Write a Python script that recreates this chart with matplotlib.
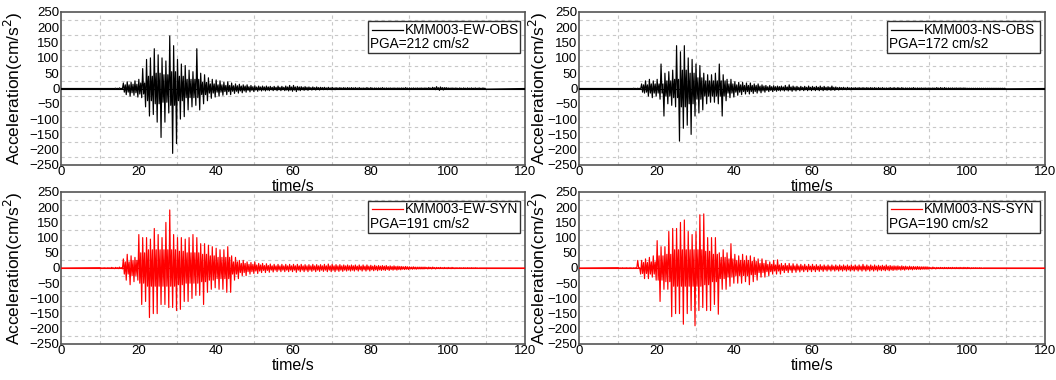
import numpy as np
import matplotlib.pyplot as plt
from matplotlib.ticker import MultipleLocator, FixedLocator
from matplotlib.patches import Rectangle

plt.rcParams['font.family'] = ['Liberation Sans', 'DejaVu Sans']

# per-second peak values (max / min), starting at t0 = 10 s
t0 = 10
ew_obs_max = [0, 0, 0, 0, 1, 2, 18, 22, 20, 25,
              30, 65, 95, 100, 130, 110, 100, 90, 172, 140,
              95, 80, 75, 60, 55, 130, 50, 45, 35, 30,
              28, 25, 20, 22, 18, 15, 14, 12, 12, 10,
              9, 8, 8, 8, 7, 7, 8, 7, 8, 10,
              10, 7, 6, 6, 5, 5, 5, 4, 4, 4,
              4, 3, 3, 3, 3, 3, 3, 3, 2, 3,
              3, 2, 2, 3, 2, 2, 2, 2, 2, 3,
              2, 2, 2, 2, 2, 3, 4, 6, 5, 3,
              2, 2, 2, 2, 2, 2, 2, 2, 2, 2]
ew_obs_min = [0, 0, 0, 0, -1, -2, -20, -25, -22, -28,
              -30, -60, -90, -85, -110, -160, -110, -80, -212, -180,
              -100, -92, -70, -60, -55, -70, -50, -40, -32, -28,
              -25, -22, -20, -20, -16, -15, -14, -12, -11, -10,
              -9, -8, -8, -7, -7, -7, -7, -7, -8, -9,
              -10, -7, -6, -6, -5, -5, -5, -4, -4, -4,
              -4, -3, -3, -3, -3, -3, -3, -3, -2, -3,
              -3, -2, -2, -3, -2, -2, -2, -2, -2, -3,
              -2, -2, -2, -2, -2, -3, -4, -6, -5, -3,
              -2, -2, -2, -2, -2, -2, -2, -2, -2, -2]

ns_obs_max = [0, 0, 0, 0, 1, 1, 15, 25, 30, 25,
              30, 80, 50, 55, 60, 140, 120, 140, 100, 95,
              80, 75, 50, 45, 45, 50, 80, 45, 30, 30,
              22, 20, 20, 18, 18, 15, 15, 12, 10, 10,
              9, 8, 8, 10, 12, 8, 7, 7, 7, 8,
              7, 7, 8, 7, 6, 8, 5, 4, 4, 4,
              3, 3, 3, 3, 3, 3, 3, 3, 3, 2,
              3, 3, 3, 3, 2, 2, 3, 2, 2, 2,
              2, 2, 3, 3, 3, 2, 2, 2, 2, 2,
              1, 1, 1, 1, 1, 1, 1, 1, 1, 1]
ns_obs_min = [0, 0, 0, 0, -1, -1, -15, -25, -30, -25,
              -35, -90, -50, -55, -60, -172, -130, -120, -150, -90,
              -80, -70, -50, -45, -45, -50, -90, -40, -30, -28,
              -22, -20, -18, -18, -16, -15, -14, -12, -10, -10,
              -9, -8, -8, -8, -9, -8, -7, -7, -7, -7,
              -7, -7, -7, -6, -6, -6, -5, -4, -4, -4,
              -3, -3, -3, -3, -3, -3, -3, -3, -3, -2,
              -3, -3, -3, -3, -2, -2, -3, -2, -2, -2,
              -2, -2, -3, -3, -3, -2, -2, -2, -2, -2,
              -1, -1, -1, -1, -1, -1, -1, -1, -1, -1]

ew_syn_max = [1, 1, 1, 2, 2, 3, 30, 45, 40, 35,
              110, 100, 100, 95, 130, 110, 100, 150, 191, 110,
              100, 100, 95, 100, 110, 100, 80, 80, 75, 70,
              65, 60, 60, 70, 40, 35, 25, 25, 20, 18,
              20, 15, 15, 14, 13, 12, 12, 12, 12, 12,
              12, 12, 12, 11, 11, 12, 11, 11, 12, 13,
              12, 11, 11, 10, 10, 10, 10, 10, 10, 10,
              9, 9, 8, 8, 8, 7, 7, 6, 5, 5,
              4, 4, 3, 3, 3, 3, 3, 2, 2, 2,
              2, 2, 1, 1, 1, 1, 1, 1, 0, 0]
ew_syn_min = [-1, -1, -1, -2, -2, -3, -40, -55, -45, -40,
              -120, -110, -163, -150, -150, -120, -120, -130, -130, -140,
              -136, -110, -110, -100, -90, -90, -120, -80, -70, -65,
              -70, -70, -80, -80, -40, -35, -25, -25, -20, -18,
              -18, -15, -15, -14, -13, -12, -12, -12, -12, -12,
              -14, -12, -12, -12, -11, -12, -11, -11, -12, -12,
              -12, -11, -11, -10, -10, -10, -10, -10, -10, -10,
              -9, -9, -8, -8, -8, -7, -7, -6, -5, -5,
              -4, -4, -3, -3, -3, -3, -3, -2, -2, -2,
              -2, -2, -1, -1, -1, -1, -1, -1, 0, 0]

ns_syn_max = [1, 1, 1, 1, 1, 25, 25, 30, 35, 40,
              90, 70, 70, 120, 130, 130, 150, 158, 120, 110,
              120, 175, 178, 100, 100, 100, 50, 60, 50, 80,
              45, 40, 45, 40, 40, 35, 30, 30, 25, 20,
              25, 27, 15, 15, 15, 14, 13, 12, 12, 12,
              12, 11, 11, 10, 10, 10, 10, 10, 10, 10,
              10, 10, 10, 12, 10, 10, 10, 9, 9, 10,
              8, 7, 7, 7, 6, 6, 5, 5, 4, 4,
              3, 3, 2, 2, 2, 2, 2, 2, 2, 2,
              2, 1, 1, 1, 0, 0, 0, 0, 0, 0]
ns_syn_min = [-1, -1, -1, -1, -1, -20, -35, -35, -30, -40,
              -110, -70, -70, -160, -150, -150, -185, -150, -140, -190,
              -140, -130, -140, -140, -120, -152, -70, -70, -60, -50,
              -50, -50, -45, -55, -45, -40, -30, -30, -25, -20,
              -20, -20, -15, -15, -15, -14, -13, -12, -12, -12,
              -12, -11, -11, -10, -10, -10, -10, -10, -10, -10,
              -10, -10, -10, -10, -10, -10, -10, -9, -9, -9,
              -8, -7, -7, -7, -6, -6, -5, -5, -4, -4,
              -3, -3, -2, -2, -2, -2, -2, -2, -2, -2,
              -2, -1, -1, -1, 0, 0, 0, 0, 0, 0]

# typical (in-between) swing of each trace, 2 s steps from t0
ew_obs_core = [0, 0, 0.5, 12, 14, 18, 40, 50, 45, 55,
               40, 30, 30, 20, 15, 12, 10, 9, 8, 6,
               5, 5, 4, 4, 5, 5, 4, 3, 3, 2,
               2, 2, 2, 1.5, 1.5, 1.5, 1.5, 1.5, 1.5, 1.5,
               1.5, 1.5, 1.5, 2.5, 3, 1.5, 1, 1, 1, 1]
ns_obs_core = [0, 0, 0.5, 12, 15, 15, 25, 30, 60, 50,
               35, 25, 25, 25, 15, 12, 10, 10, 8, 6,
               6, 5, 5, 4, 4, 4, 4, 4, 3, 2,
               2, 2, 2, 1.5, 1.5, 1.5, 1.5, 1.5, 1.5, 1.5,
               1.5, 1.5, 1.5, 1.5, 1.5, 1, 1, 1, 1, 1]
ew_syn_core = [0.5, 0.5, 1, 20, 25, 50, 60, 60, 60, 60,
               55, 50, 50, 45, 40, 35, 35, 20, 15, 12,
               10, 8, 7, 7, 7, 7, 7, 7, 7, 7,
               7, 7, 7, 6, 6, 6, 6, 5, 5, 4,
               3, 3, 2, 1.5, 1, 1, 0.5, 0.5, 0.5, 0]
ns_syn_core = [0.5, 0.5, 1, 18, 20, 40, 45, 60, 60, 60,
               60, 55, 45, 35, 30, 25, 25, 22, 15, 12,
               10, 8, 7, 7, 6, 6, 6, 6, 6, 6,
               6, 6, 6, 6, 6, 6, 5, 4, 4, 4,
               1.5, 1.5, 1.5, 1.5, 1.5, 1, 0.5, 0, 0, 0]

panels = [
    ("KMM003-EW-OBS", "PGA=212 cm/s2", ew_obs_max, ew_obs_min, ew_obs_core, "black"),
    ("KMM003-NS-OBS", "PGA=172 cm/s2", ns_obs_max, ns_obs_min, ns_obs_core, "black"),
    ("KMM003-EW-SYN", "PGA=191 cm/s2", ew_syn_max, ew_syn_min, ew_syn_core, "red"),
    ("KMM003-NS-SYN", "PGA=190 cm/s2", ns_syn_max, ns_syn_min, ns_syn_core, "red"),
]

# axes rectangles in pixels (left, top, right, bottom) of a 1056x380 figure
boxes = [(61, 12, 525, 165), (579, 12, 1045, 165),
         (61, 192, 525, 344), (579, 192, 1045, 344)]

fig = plt.figure(figsize=(10.56, 3.8), dpi=100)
W, H = 1056, 380

for k, ((name, pga, vmax, vmin, core, col), (l, t, r, b)) in enumerate(zip(panels, boxes)):
    ax = fig.add_axes([l / W, (H - b) / H, (r - l) / W, (b - t) / H])

    # each second: peak up, core down, core up, peak down
    sec = t0 + np.arange(len(vmax))
    c = np.array(core)[np.arange(len(vmax)) // 2]
    tt = np.column_stack([sec + 0.125, sec + 0.375, sec + 0.625, sec + 0.875]).ravel()
    yy = np.column_stack([vmax, -c, c, vmin]).ravel()
    tt = np.concatenate([[0], tt, [120]])
    yy = np.concatenate([[0], yy, [0]])
    ax.plot(tt, yy, color=col, lw=0.85, zorder=3)
    ax.axhline(0, color=col, lw=0.8, zorder=3)

    ax.set_xlim(0, 120)
    ax.set_ylim(-250, 250)
    ax.xaxis.set_major_locator(MultipleLocator(20))
    ax.yaxis.set_major_locator(MultipleLocator(50))
    ax.xaxis.set_minor_locator(FixedLocator(np.arange(10, 120, 20)))
    ax.yaxis.set_minor_locator(FixedLocator(np.arange(-225, 250, 50)))
    ax.grid(which='minor', color='#c8c8c8', ls=(0, (3, 3)), lw=0.8)
    ax.grid(which='major', visible=False)
    ax.tick_params(which='both', length=0, labelsize=9.5, pad=1)
    for s in ax.spines.values():
        s.set_color('#555555')
        s.set_linewidth(1.2)

    ax.set_xlabel("time/s", fontsize=11.5, labelpad=0)
    ax.set_ylabel("Acceleration(cm/s$^2$)", fontsize=12.5)
    ax.xaxis.set_label_coords(0.5, -0.09)
    ax.yaxis.set_label_coords(-0.078 if k % 2 == 0 else -0.062, 0.5)

    # legend box
    bx0, bx1, by0, by1 = 0.662, 0.99, 0.73, 0.94
    ax.add_patch(Rectangle((bx0, by0), bx1 - bx0, by1 - by0, transform=ax.transAxes,
                           fill=True, fc='white', ec='#333333', lw=1.0, zorder=5))
    ly = 0.885
    ax.plot([0.670, 0.737], [ly, ly], transform=ax.transAxes,
            color=col, lw=0.9, zorder=6)
    ax.text(0.741, ly, name, transform=ax.transAxes, fontsize=9.8,
            va='center', ha='left', zorder=6)
    ax.text(0.666, 0.79, pga, transform=ax.transAxes,
            fontsize=9.8, va='center', ha='left', zorder=6)

fig.savefig("out.png", dpi=100)
